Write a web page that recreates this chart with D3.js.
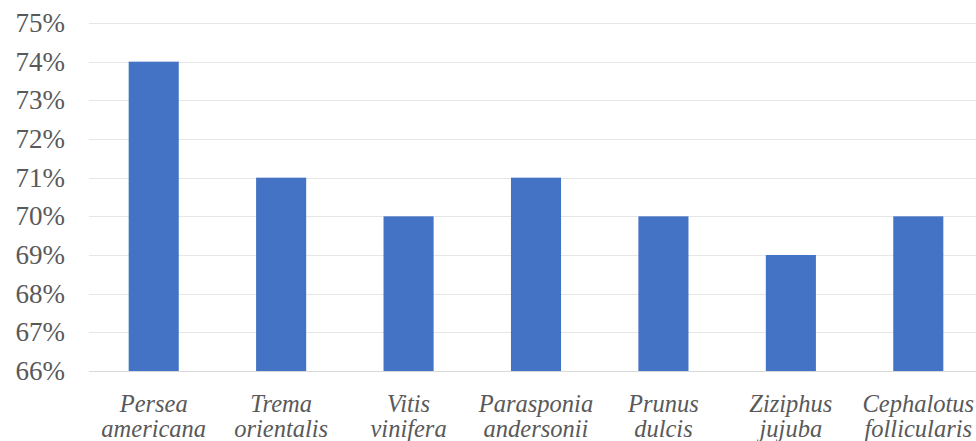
<!DOCTYPE html>
<html>
<head>
<meta charset="utf-8">
<script src="https://cdn.jsdelivr.net/npm/d3@7"></script>
<style>
  html, body { margin: 0; padding: 0; background: #fff; }
  svg { display: block; }
</style>
</head>
<body>
<svg id="chart" width="976" height="441"></svg>
<script>
// Species (two-line labels) and their percentages
const speciesLine1 = ["Persea", "Trema", "Vitis", "Parasponia", "Prunus", "Ziziphus", "Cephalotus"];
const speciesLine2 = ["americana", "orientalis", "vinifera", "andersonii", "dulcis", "jujuba", "follicularis"];
const percentValues = [74, 71, 70, 71, 70, 69, 70];
const yTicks = [66, 67, 68, 69, 70, 71, 72, 73, 74, 75];

(function () {
  const svg = d3.select("#chart");
  const plotLeft = 90, plotRight = 982, plotTop = 23, plotBottom = 371;
  const serif = "'Liberation Serif'";

  const x = d3.scaleBand()
    .domain(d3.range(speciesLine1.length))
    .range([plotLeft, plotRight])
    .paddingInner(0.607)
    .paddingOuter(0.3035);

  const y = d3.scaleLinear().domain([66, 75]).range([plotBottom, plotTop]);

  // Horizontal gridlines
  svg.append("g")
    .selectAll("line")
    .data(yTicks)
    .join("line")
    .attr("x1", plotLeft - 1)
    .attr("x2", 976)
    .attr("y1", d => Math.round(y(d)) + 0.5)
    .attr("y2", d => Math.round(y(d)) + 0.5)
    .attr("stroke", d => d === 66 ? "#d9d9d9" : "#e6e6e6")
    .attr("stroke-width", 1);

  // Y-axis labels
  const yAxis = d3.axisLeft(y).tickValues(yTicks).tickFormat(d => d + "%").tickSize(0).tickPadding(0);
  const yg = svg.append("g").attr("transform", "translate(65,0)").call(yAxis);
  yg.select(".domain").remove();
  yg.attr("font-family", null).attr("font-size", null);
  yg.selectAll("text")
    .style("font-family", serif)
    .style("font-size", "27px")
    .attr("fill", "#595959");

  // Bars
  svg.append("g")
    .selectAll("rect")
    .data(percentValues)
    .join("rect")
    .attr("x", (d, i) => x(i))
    .attr("width", x.bandwidth())
    .attr("y", d => y(d))
    .attr("height", d => y(66) - y(d))
    .attr("fill", "#4472c4");

  // Category labels
  const labels = svg.append("g")
    .style("font-family", serif)
    .style("font-style", "italic")
    .style("font-size", "24.5px")
    .attr("fill", "#595959")
    .attr("text-anchor", "middle");

  labels.selectAll("text.l1")
    .data(speciesLine1)
    .join("text")
    .attr("class", "l1")
    .attr("x", (d, i) => x(i) + x.bandwidth() / 2)
    .attr("y", 412)
    .text(d => d);

  labels.selectAll("text.l2")
    .data(speciesLine2)
    .join("text")
    .attr("class", "l2")
    .attr("x", (d, i) => x(i) + x.bandwidth() / 2)
    .attr("y", 437)
    .text(d => d);
})();
</script>
</body>
</html>
